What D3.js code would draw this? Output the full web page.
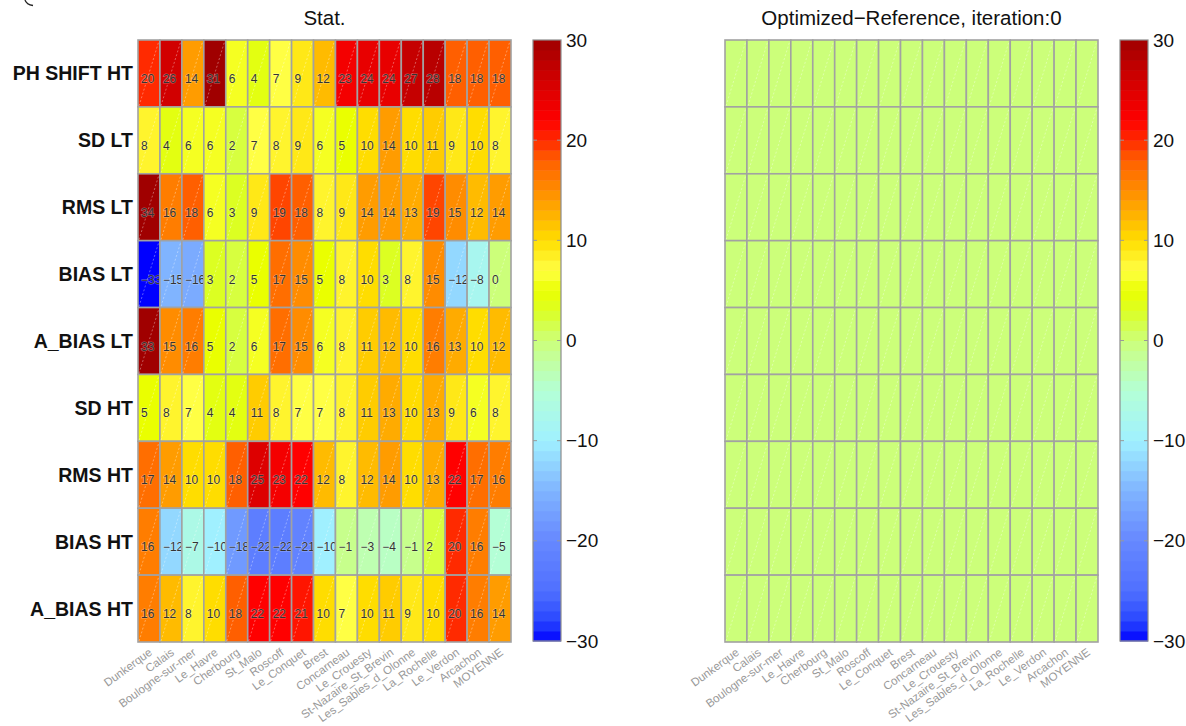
<!DOCTYPE html>
<html>
<head>
<meta charset="utf-8">
<script src="https://cdn.jsdelivr.net/npm/d3@7"></script>
<style>
  body { margin: 0; background: #fff; }
  svg { display: block; font-family: "Liberation Sans", Arial, Helvetica, sans-serif; }
</style>
</head>
<body>
<svg id="chart" width="1186" height="726"></svg>
<script>
// Tide gauge stations (columns) and statistics (rows)
const stations = ["Dunkerque", "Calais", "Boulogne-sur-mer", "Le_Havre", "Cherbourg", "St_Malo",
  "Roscoff", "Le_Conquet", "Brest", "Concarneau", "Le_Crouesty", "St-Nazaire_St_Brevin",
  "Les_Sables_d_Olonne", "La_Rochelle", "Le_Verdon", "Arcachon", "MOYENNE"];
const metrics = ["PH SHIFT HT", "SD LT", "RMS LT", "BIAS LT", "A_BIAS LT", "SD HT", "RMS HT", "BIAS HT", "A_BIAS HT"];

// Statistics per row
const phShiftHT = [20, 26, 14, 31, 6, 4, 7, 9, 12, 23, 24, 24, 27, 28, 18, 18, 18];
const sdLT      = [8, 4, 6, 6, 2, 7, 8, 9, 6, 5, 10, 14, 10, 11, 9, 10, 8];
const rmsLT     = [34, 16, 18, 6, 3, 9, 19, 18, 8, 9, 14, 14, 13, 19, 15, 12, 14];
const biasLT    = [-33, -15, -16, 3, 2, 5, 17, 15, 5, 8, 10, 3, 8, 15, -12, -8, 0];
const aBiasLT   = [33, 15, 16, 5, 2, 6, 17, 15, 6, 8, 11, 12, 10, 16, 13, 10, 12];
const sdHT      = [5, 8, 7, 4, 4, 11, 8, 7, 7, 8, 11, 13, 10, 13, 9, 6, 8];
const rmsHT     = [17, 14, 10, 10, 18, 25, 23, 22, 12, 8, 12, 14, 10, 13, 22, 17, 16];
const biasHT    = [16, -12, -7, -10, -18, -22, -22, -21, -10, -1, -3, -4, -1, 2, 20, 16, -5];
const aBiasHT   = [16, 12, 8, 10, 18, 22, 22, 21, 10, 7, 10, 11, 9, 10, 20, 16, 14];
const statRows = [phShiftHT, sdLT, rmsLT, biasLT, aBiasLT, sdHT, rmsHT, biasHT, aBiasHT];

// Optimized minus reference differences (iteration 0)
const dPhShiftHT = [0, 0, 0, 0, 0, 0, 0, 0, 0, 0, 0, 0, 0, 0, 0, 0, 0];
const dSdLT      = [0, 0, 0, 0, 0, 0, 0, 0, 0, 0, 0, 0, 0, 0, 0, 0, 0];
const dRmsLT     = [0, 0, 0, 0, 0, 0, 0, 0, 0, 0, 0, 0, 0, 0, 0, 0, 0];
const dBiasLT    = [0, 0, 0, 0, 0, 0, 0, 0, 0, 0, 0, 0, 0, 0, 0, 0, 0];
const dABiasLT   = [0, 0, 0, 0, 0, 0, 0, 0, 0, 0, 0, 0, 0, 0, 0, 0, 0];
const dSdHT      = [0, 0, 0, 0, 0, 0, 0, 0, 0, 0, 0, 0, 0, 0, 0, 0, 0];
const dRmsHT     = [0, 0, 0, 0, 0, 0, 0, 0, 0, 0, 0, 0, 0, 0, 0, 0, 0];
const dBiasHT    = [0, 0, 0, 0, 0, 0, 0, 0, 0, 0, 0, 0, 0, 0, 0, 0, 0];
const dABiasHT   = [0, 0, 0, 0, 0, 0, 0, 0, 0, 0, 0, 0, 0, 0, 0, 0, 0];
const diffRows = [dPhShiftHT, dSdLT, dRmsLT, dBiasLT, dABiasLT, dSdHT, dRmsHT, dBiasHT, dABiasHT];

// Colour bar ticks and colormap stops
const colorTicks = [-30, -20, -10, 0, 10, 20, 30];
const stopValues = [-30, -28, -25, -20, -15, -10, -5, 0, 3, 5, 7, 10, 12, 15, 18, 20, 22, 25, 30];
const stopColors = ["#0000ff", "#2846ff", "#5070ff", "#6688ff", "#80b4ff", "#a0f0ff", "#b4ffd6",
  "#ccff7a", "#dcff22", "#eaff00", "#ffff44", "#ffdd00", "#ffbb00", "#ff8c00", "#ff5f00",
  "#ff2a00", "#ff0000", "#dd0000", "#a00000"];

const color = d3.scaleLinear().domain(stopValues).range(stopColors).clamp(true);

const svg = d3.select("#chart");
const gridTop = 40, gridBottom = 642;

// clipped bracket stroke in the top-left corner
svg.append("path").attr("d", "M25,0 Q26.5,4.5 33,5.5")
  .attr("fill", "none").attr("stroke", "#222").attr("stroke-width", 1.3);

const fmt = v => v < 0 ? "\u2212" + Math.abs(v) : String(v);

function drawPanel(opts) {
  const g = svg.append("g");
  const x = d3.scaleBand().domain(stations).range([opts.x0, opts.x0 + 373]);
  const y = d3.scaleBand().domain(metrics).range([gridTop, gridBottom]);

  // title
  g.append("text")
    .attr("x", opts.x0 + 373 / 2).attr("y", 25)
    .attr("text-anchor", "middle").attr("font-size", 20.5).attr("fill", "#111")
    .text(opts.title);

  const cells = [];
  opts.rows.forEach((row, i) => row.forEach((v, j) => cells.push({ m: metrics[i], s: stations[j], v })));

  const cg = g.selectAll("g.cell").data(cells).join("g").attr("class", "cell");
  cg.append("rect")
    .attr("x", d => x(d.s)).attr("y", d => y(d.m))
    .attr("width", x.bandwidth()).attr("height", y.bandwidth())
    .attr("fill", d => color(d.v))
    .attr("stroke", "#a2a2a2").attr("stroke-width", 1.6);
  cg.append("line")
    .attr("x1", d => x(d.s) + 1).attr("y1", d => y(d.m) + y.bandwidth() - 1)
    .attr("x2", d => x(d.s) + x.bandwidth() - 1).attr("y2", d => y(d.m) + 1)
    .attr("stroke", "#fff").attr("stroke-opacity", 0.45)
    .attr("stroke-width", 0.8).attr("stroke-dasharray", "2,2");

  if (opts.showText) {
    cg.append("text")
      .attr("x", d => x(d.s) + 3)
      .attr("y", d => y(d.m) + y.bandwidth() / 2 + 9.5)
      .attr("font-size", 12).attr("fill", "#333")
      .attr("stroke", "rgba(255,255,255,0.35)").attr("stroke-width", 1.2)
      .attr("paint-order", "stroke")
      .text(d => fmt(d.v));

    // row labels
    g.selectAll("text.rowlab").data(metrics).join("text")
      .attr("class", "rowlab")
      .attr("x", opts.x0 - 5).attr("y", d => y(d) + y.bandwidth() / 2)
      .attr("text-anchor", "end").attr("dominant-baseline", "central")
      .attr("font-size", 19.5).attr("font-weight", "bold").attr("fill", "#111")
      .text(d => d);
  }

  // station labels, slanted
  g.selectAll("text.collab").data(stations).join("text")
    .attr("class", "collab")
    .attr("text-anchor", "end")
    .attr("font-size", 11.5).attr("fill", "#999")
    .attr("transform", d => `translate(${x(d) + x.bandwidth() / 2 + 4},${gridBottom + 12}) rotate(-36)`)
    .text(d => d);

  // colour bar
  const cbx = opts.cbX, cbw = 28;
  const cb = d3.scaleLinear().domain([-30, 30]).range([641, 40]);
  const bands = d3.range(-30, 30, 1);
  g.selectAll("rect.band").data(bands).join("rect")
    .attr("class", "band")
    .attr("x", cbx).attr("width", cbw)
    .attr("y", d => cb(d + 1)).attr("height", d => cb(d) - cb(d + 1) + 0.5)
    .attr("fill", d => color(d + 0.5));
  g.append("rect").attr("x", cbx).attr("y", 40).attr("width", cbw).attr("height", 601)
    .attr("fill", "none").attr("stroke", "#8c8c8c").attr("stroke-width", 1.2);
  colorTicks.slice(1, -1).forEach(t => {
    g.append("line").attr("x1", cbx).attr("x2", cbx + 4).attr("y1", cb(t)).attr("y2", cb(t))
      .attr("stroke", "#999").attr("stroke-width", 1);
    g.append("line").attr("x1", cbx + cbw - 4).attr("x2", cbx + cbw).attr("y1", cb(t)).attr("y2", cb(t))
      .attr("stroke", "#999").attr("stroke-width", 1);
  });
  const axis = d3.axisRight(cb).tickValues(colorTicks).tickSize(0).tickPadding(5).tickFormat(fmt);
  const ag = g.append("g").attr("transform", `translate(${cbx + cbw},0)`).call(axis);
  ag.select(".domain").remove();
  ag.selectAll("text").attr("font-size", 19).attr("fill", "#111")
    .attr("font-family", "'Liberation Sans', Arial, sans-serif");
}

drawPanel({ x0: 138, title: "Stat.", rows: statRows, showText: true, cbX: 533 });
drawPanel({ x0: 725, title: "Optimized\u2212Reference, iteration:0", rows: diffRows, showText: false, cbX: 1120 });
</script>
</body>
</html>
